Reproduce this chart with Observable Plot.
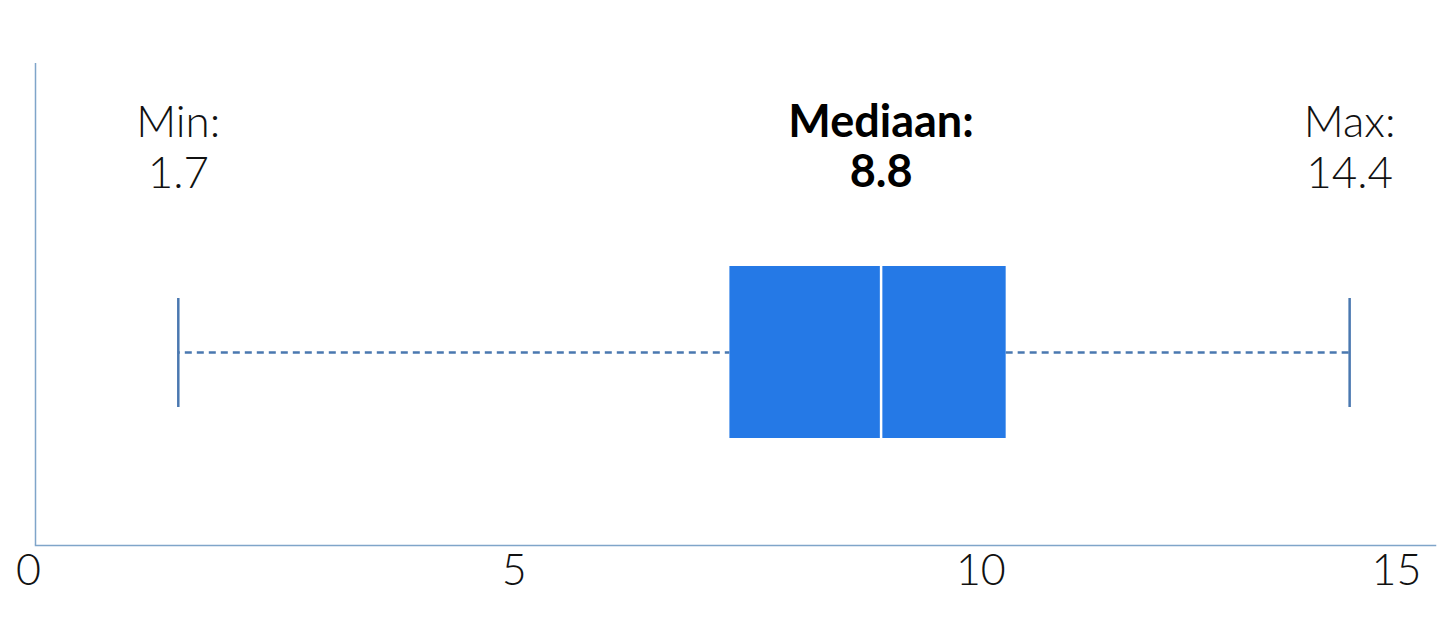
<!DOCTYPE html>
<html>
<head>
<meta charset="utf-8">
<script src="https://cdn.jsdelivr.net/npm/d3@7"></script>
<script src="https://cdn.jsdelivr.net/npm/@observablehq/plot@0.6"></script>
<style>
  html, body { margin: 0; padding: 0; background: #fff; }
  #chart svg { display: block; }
</style>
</head>
<body>
<div id="chart"></div>
<script>
// ---- data ----
const categories = ["verdeling"];
const minValues = [1.53];
const q1Values = [7.44];
const medianValues = [9.06];
const q3Values = [10.40];
const maxValues = [14.08];
const labelTitles = ["Min:", "Mediaan:", "Max:"];
const labelNumbers = ["1.7", "8.8", "14.4"];
const tickValues = [0, 5, 10, 15];

const rows = categories.map((c, i) => ({
  cat: c, min: minValues[i], q1: q1Values[i], median: medianValues[i], q3: q3Values[i], max: maxValues[i]
}));
const labels = [
  {x: minValues[0], title: labelTitles[0], num: labelNumbers[0]},
  {x: medianValues[0], title: labelTitles[1], num: labelNumbers[1]},
  {x: maxValues[0], title: labelTitles[2], num: labelNumbers[2]}
];
const plainLabels = [labels[0], labels[2]];
const boldLabels = [labels[1]];

const boxColor = "#2579e6";
const whiskerColor = "#4a78b0";
const axisColor = "#7fa5c9";
const font = "Lato, 'Open Sans', sans-serif";
const tickStyle = {tickSize: 0, tickPadding: 9, fontSize: 43, fontWeight: 300, fill: "#111", label: null};

const chart = Plot.plot({
  width: 1452,
  height: 635,
  marginLeft: 35,
  marginRight: 17,
  marginTop: 63,
  marginBottom: 90,
  style: {fontFamily: font, color: "#111", background: "#fff"},
  x: {domain: [0, 15], axis: null},
  y: {type: "band", domain: categories, paddingInner: 0, paddingOuter: 0.901, align: 0.655, axis: null},
  marks: [
    Plot.ruleX([0], {stroke: axisColor, strokeWidth: 1.5}),
    Plot.frame({anchor: "bottom", stroke: axisColor, strokeWidth: 1.5}),
    Plot.axisX({...tickStyle, ticks: tickValues.slice(0, 1), dx: -7}),
    Plot.axisX({...tickStyle, ticks: tickValues.slice(1, -1), dx: 12}),
    Plot.axisX({...tickStyle, ticks: tickValues.slice(-1), textAnchor: "end", dx: -14}),
    Plot.ruleY(rows, {y: "cat", x1: "min", x2: "q1", stroke: whiskerColor, strokeWidth: 2.6, strokeDasharray: "7,5", strokeDashoffset: -7}),
    Plot.ruleY(rows, {y: "cat", x1: "q3", x2: "max", stroke: whiskerColor, strokeWidth: 2.6, strokeDasharray: "7,5"}),
    Plot.tickX(rows, {x: "min", y: "cat", stroke: whiskerColor, strokeWidth: 2.5, insetTop: 32, insetBottom: 31}),
    Plot.tickX(rows, {x: "max", y: "cat", stroke: whiskerColor, strokeWidth: 2.5, insetTop: 32, insetBottom: 31}),
    Plot.barX(rows, {x1: "q1", x2: "q3", y: "cat", fill: boxColor}),
    Plot.tickX(rows, {x: "median", y: "cat", stroke: "#fff", strokeWidth: 2.5}),
    Plot.text(plainLabels, {x: "x", frameAnchor: "top", lineAnchor: "top", dy: 37, text: d => d.title + "\n" + d.num, fontSize: 44, fontWeight: 300, lineHeight: 1.16, fill: "#111"}),
    Plot.text(boldLabels, {x: "x", frameAnchor: "top", lineAnchor: "top", dy: 37, text: d => d.title + "\n" + d.num, fontSize: 45, fontWeight: 700, lineHeight: 1.13, fill: "#000"})
  ]
});
document.getElementById("chart").appendChild(chart);
</script>
</body>
</html>
